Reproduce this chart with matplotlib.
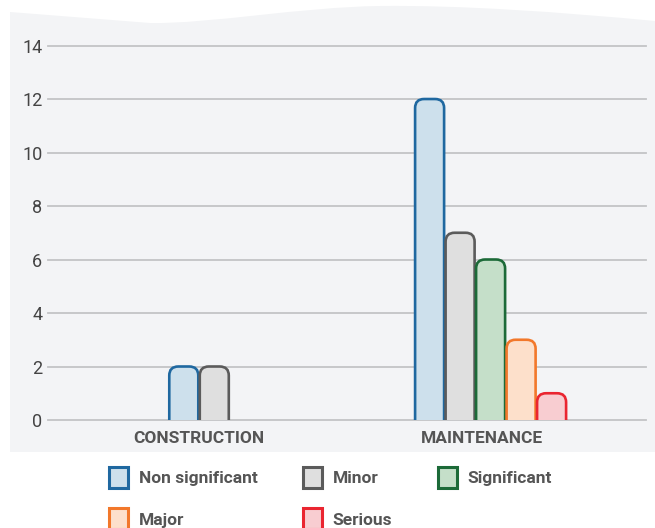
import matplotlib.pyplot as plt
from matplotlib.patches import FancyBboxPatch, Patch, PathPatch
from matplotlib.path import Path

# data
categories = ['CONSTRUCTION', 'MAINTENANCE']
severity = ['Non significant', 'Minor', 'Significant', 'Major', 'Serious']
construction = [2, 2, 0, 0, 0]
maintenance = [12, 7, 6, 3, 1]
yticks = [0, 2, 4, 6, 8, 10, 12, 14]

edge_colors = ['#1f68a0', '#5b5b5b', '#1c6a38', '#f2782b', '#ea2530']
fill_colors = ['#cde0ec', '#dfdfdf', '#c5dfc9', '#fde0cb', '#f8cdd1']

plt.rcParams['font.family'] = ['Roboto', 'DejaVu Sans']

W, H = 655, 528
fig = plt.figure(figsize=(W / 100, H / 100), dpi=100)
fig.patch.set_facecolor('white')

# light grey panel with a wavy top edge (pixel coords -> figure fraction)
def fp(x, y):
    return (x / W, 1 - y / H)

verts = [fp(10, 452), fp(10, 12), fp(150, 23),
         fp(210, 24), fp(300, 7), fp(380, 6),
         fp(460, 5), fp(560, 12), fp(655, 21),
         fp(655, 452), fp(10, 452)]
codes = [Path.MOVETO, Path.LINETO, Path.LINETO,
         Path.CURVE4, Path.CURVE4, Path.CURVE4,
         Path.CURVE4, Path.CURVE4, Path.CURVE4,
         Path.LINETO, Path.CLOSEPOLY]
panel = PathPatch(Path(verts, codes), transform=fig.transFigure,
                  facecolor='#f3f4f6', edgecolor='none', zorder=-5)
fig.patches.append(panel)

ax_left, ax_right, ax_top, ax_bot = 48, 646, 37.5, 420
ax = fig.add_axes([ax_left / W, 1 - ax_bot / H,
                   (ax_right - ax_left) / W, (ax_bot - ax_top) / H])
ax.set_facecolor('none')
ax.set_xlim(-0.518, 1.533)
ax.set_ylim(0, 14.3)

# ratio of y data units per pixel to x data units per pixel
px_x = (ax_right - ax_left) / (1.533 + 0.518)
px_y = (ax_bot - ax_top) / 14.3
aspect = px_x / px_y

bar_w = 0.0995
step = 0.1046
radius = 9 / px_x

for i, vals in enumerate([construction, maintenance]):
    idx = [k for k, v in enumerate(vals) if v > 0]
    n = len(idx)
    for j, k in enumerate(idx):
        xc = i + (j - (n - 1) / 2) * step
        bar = FancyBboxPatch((xc - bar_w / 2, -0.6), bar_w, vals[k] + 0.6,
                             boxstyle='round,pad=0,rounding_size=%f' % radius,
                             mutation_aspect=aspect,
                             facecolor=fill_colors[k], edgecolor=edge_colors[k],
                             linewidth=1.9, zorder=3)
        ax.add_patch(bar)

for t in yticks:
    ax.axhline(t, color='#c3c4c6', linewidth=1.3, zorder=1, clip_on=False)

ax.set_yticks(yticks)
ax.set_yticklabels([str(t) for t in yticks], fontsize=13, color='#444444')
ax.set_xticks([0, 0.97])
ax.set_xticklabels(categories, fontsize=12.5, fontweight='bold', color='#555555')
ax.tick_params(axis='both', length=0)
ax.tick_params(axis='y', pad=4)
ax.tick_params(axis='x', pad=8)
for s in ax.spines.values():
    s.set_visible(False)

handles = [Patch(facecolor=fill_colors[k], edgecolor=edge_colors[k], linewidth=2.2)
           for k in range(len(severity))]
order = [0, 3, 1, 4, 2]
fig.legend([handles[k] for k in order], [severity[k] for k in order],
           ncol=3, loc='upper left', bbox_to_anchor=(109 / W, 1 - 467 / H),
           frameon=False, prop={'size': 12.5, 'weight': 'bold'},
           labelcolor='#555555', handlelength=1.1, handleheight=1.45,
           handletextpad=0.6, columnspacing=2.65, labelspacing=1.2,
           borderaxespad=0, borderpad=0)

fig.savefig('out.png', dpi=100)
